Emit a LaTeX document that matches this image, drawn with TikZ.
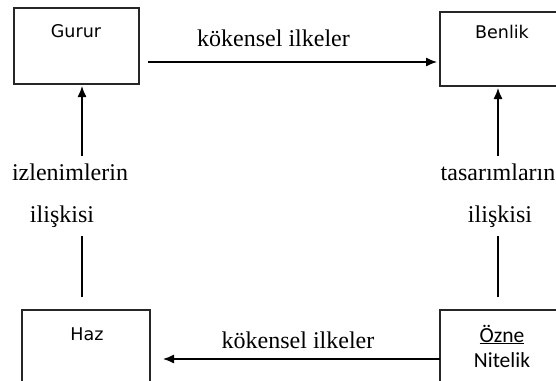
\documentclass[tikz,border=0pt]{standalone}
\usepackage{fontspec}
\setmainfont{Liberation Serif}
\newfontfamily\boxfont{DejaVu Sans}
\newfontfamily\calfont{Carlito}
\usetikzlibrary{arrows.meta}
\begin{document}
\begin{tikzpicture}[x=1pt,y=-1pt,
  box/.style={draw=black!85,line width=1.3pt},
  lbl/.style={anchor=base,inner sep=0pt,font=\fontsize{24}{28}\selectfont},
  boxlbl/.style={anchor=base,inner sep=0pt,font=\boxfont\fontsize{17.5}{21}\selectfont},
  callbl/.style={anchor=base,inner sep=0pt,font=\calfont\fontsize{21.5}{25}\selectfont},
  conn/.style={line width=1.3pt},
  arr/.style={conn,-{Latex[length=11pt,width=9pt]}}]
\useasboundingbox (0,0) rectangle (556,380);
% boxes
\draw[box] (14,8) rectangle (139,84);
\draw[box] (440,12) rectangle (566,86);
\draw[box] (22,310) rectangle (150,392);
\draw[box] (440,310) rectangle (566,392);
\coordinate (Gs) at (82,84);
\coordinate (Bs) at (498,86);
\coordinate (Hn) at (82,310);
\coordinate (On) at (498,310);
\coordinate (Ge) at (139,62);
\coordinate (Bw) at (440,62);
\coordinate (Hw) at (150,359);
\coordinate (Ow) at (440,359);
% box labels
\node[boxlbl] (gurur) at (76,37) {Gurur};
\node[boxlbl] (benlik) at (502,38) {Benlik};
\node[boxlbl] (haz) at (87,340) {Haz};
\node[callbl] (ozne) at (502,342) {\underline{Özne}};
\node[callbl] (nitelik) at (502,367) {Nitelik};
% edge labels
\node[lbl] (k1) at (273.5,46) {kökensel ilkeler};
\node[lbl] (k2) at (298,348) {kökensel ilkeler};
\node[lbl] (iz) at (70,180) {izlenimlerin};
\node[lbl] (il1) at (62,222) {ilişkisi};
\node[lbl] (ta) at (498,180) {tasarımların};
\node[lbl] (il2) at (500,222) {ilişkisi};
% connectors
\coordinate (la) at (82,236);
\coordinate (lb) at (82,156);
\coordinate (ra) at (498,236);
\coordinate (rb) at (498,156);
\draw[arr,shorten <=9pt,shorten >=3pt] (Ge) -- (Bw);
\draw[arr,shorten >=13pt] (Ow) -- (Hw);
\draw[conn,shorten <=13pt] (Hn) -- (la);
\draw[arr,shorten >=2pt] (lb) -- (Gs);
\draw[conn,shorten <=13pt] (On) -- (ra);
\draw[arr,shorten >=2pt] (rb) -- (Bs);
\end{tikzpicture}
\end{document}
